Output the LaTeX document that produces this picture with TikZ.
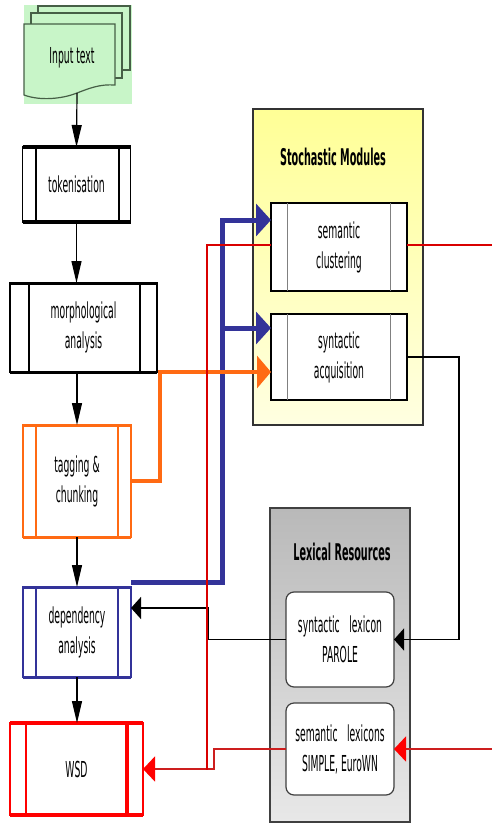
\documentclass[tikz,border=0pt]{standalone}
\usepackage{fontspec}
\setmainfont{DejaVu Sans}[FakeStretch=0.42]
\usetikzlibrary{arrows.meta}
\definecolor{orng}{RGB}{255,106,19}
\definecolor{blu}{RGB}{51,51,153}
\definecolor{rd}{RGB}{255,0,0}
\definecolor{rdl}{RGB}{205,30,30}
\definecolor{grn}{RGB}{200,245,200}
\definecolor{grnl}{RGB}{70,95,70}
\definecolor{ylwt}{RGB}{255,255,150}
\definecolor{ylwb}{RGB}{255,255,225}
\definecolor{gryt}{RGB}{185,185,185}
\definecolor{gryb}{RGB}{232,232,232}
\begin{document}
\begin{tikzpicture}[x=1pt,y=-1pt,
  txt/.style={font=\fontsize{22}{30}\selectfont, align=center, inner sep=0pt, outer sep=0pt},
  ttl/.style={font=\fontsize{23}{26}\selectfont\bfseries, inner sep=0pt},
  pbox/.style={txt, fill=white, line width=1.5pt},
  rbox/.style={txt, fill=white, draw=black!75, line width=1.2pt, rounded corners=8pt},
  flow/.style={line width=1.2pt, -{Triangle[length=22pt,width=10pt]}},
  hflow/.style={line width=1.5pt, -{Triangle[length=10pt,width=22pt]}},
  bflow/.style={blu, line width=5pt, -{Triangle[length=15pt,width=32pt]}},
  oflow/.style={orng, line width=4.5pt, -{Triangle[length=14pt,width=32pt]}},
  rflow/.style={rdl, line width=2pt, -{Triangle[length=12pt,width=25pt,color=rd]}},
  rthin/.style={rd!85!black, line width=1.2pt}]
\useasboundingbox (0,0) rectangle (492,825);

% Input text (document stack)
\fill[grn] (24,5) rectangle (132,104);
\filldraw[fill=grn, draw=grnl, line width=1.2pt] (38,6) rectangle (130,70);
\filldraw[fill=grn, draw=grnl, line width=1.2pt] (31,13) rectangle (122,78);
\filldraw[fill=grn, draw=grnl, line width=1.2pt] (24,24) -- (115,24) -- (115,85)
  .. controls (100,84) and (90,88) .. (77,93) .. controls (62,99) and (40,101) .. (24,95) -- cycle;
\node[txt] (in) at (72,58) {Input text};
\coordinate (inbot) at (77,93);

% processing chain
\node[pbox, draw=black, minimum width=108pt, minimum height=75pt] (tok) at (76.5,184.5) {tokenisation};
\draw[line width=3.5pt] (tok.north west) -- (tok.north east) (tok.south west) -- (tok.south east);
\draw[line width=2pt] ([xshift=13pt]tok.north west) -- ([xshift=13pt]tok.south west)
  ([xshift=-12pt]tok.north east) -- ([xshift=-12pt]tok.south east);

\node[pbox, draw=black, minimum width=147pt, minimum height=89pt] (morph) at (83.5,327.5) {morphological\\analysis};
\draw[line width=3pt] (morph.north west) -- (morph.north east) (morph.south west) -- (morph.south east);
\draw[line width=2pt] ([xshift=19pt]morph.north west) -- ([xshift=19pt]morph.south west)
  ([xshift=-17pt]morph.north east) -- ([xshift=-17pt]morph.south east);

\node[pbox, draw=orng, minimum width=108pt, minimum height=112pt] (tag) at (77,481) {tagging \&\\chunking};
\draw[orng, line width=3pt] (tag.north west) -- (tag.north east) (tag.south west) -- (tag.south east);
\draw[orng, line width=2pt] ([xshift=13pt]tag.north west) -- ([xshift=13pt]tag.south west)
  ([xshift=-13pt]tag.north east) -- ([xshift=-13pt]tag.south east);

\node[pbox, draw=blu, minimum width=108pt, minimum height=90pt] (dep) at (77,632) {dependency\\analysis};
\draw[blu, line width=3pt] (dep.north west) -- (dep.north east) (dep.south west) -- (dep.south east);
\draw[blu, line width=2pt] ([xshift=13pt]dep.north west) -- ([xshift=13pt]dep.south west)
  ([xshift=-13pt]dep.north east) -- ([xshift=-13pt]dep.south east);

\node[pbox, draw=rd, minimum width=133pt, minimum height=92pt] (wsd) at (76.5,769) {WSD};
\draw[rd, line width=4pt] (wsd.north west) -- (wsd.north east) (wsd.south west) -- (wsd.south east);
\draw[rd, line width=1.5pt] ([xshift=16pt]wsd.north west) -- ([xshift=16pt]wsd.south west);
\draw[rd, line width=3.5pt] ([xshift=-16pt]wsd.north east) -- ([xshift=-16pt]wsd.south east);

% Stochastic modules
\node[draw=black!80, line width=1.5pt, top color=ylwt, bottom color=ylwb, minimum width=170pt, minimum height=316pt, inner sep=0pt] (stoch) at (338,267) {};
\node[ttl] (stochT) at (333,157) {Stochastic Modules};
\node[pbox, draw=black, minimum width=136pt, minimum height=88pt] (semc) at (339,247) {semantic\\clustering};
\draw[black!50, line width=1pt] ([xshift=16pt]semc.north west) -- ([xshift=16pt]semc.south west)
  ([xshift=-17pt]semc.north east) -- ([xshift=-17pt]semc.south east);
\node[pbox, draw=black, minimum width=136pt, minimum height=86pt] (syna) at (339,357) {syntactic\\acquisition};
\draw[black!50, line width=1pt] ([xshift=16pt]syna.north west) -- ([xshift=16pt]syna.south west)
  ([xshift=-17pt]syna.north east) -- ([xshift=-17pt]syna.south east);

% Lexical resources
\node[draw=black!75, line width=1.5pt, top color=gryt, bottom color=gryb, minimum width=140pt, minimum height=314pt, inner sep=0pt] (lex) at (340,665) {};
\node[ttl] (lexT) at (342,552) {Lexical Resources};
\node[rbox, minimum width=108pt, minimum height=95pt] (synlex) at (340,639.5) {syntactic\hspace{0.3em} lexicon\\PAROLE};
\node[rbox, minimum width=108pt, minimum height=92pt] (semlex) at (340,749) {semantic\hspace{0.3em} lexicons\\SIMPLE, EuroWN};

% edge coordinates
\coordinate (rR1) at (492,245);
\coordinate (rR2) at (492,749);

% vertical flow
\draw[flow] (inbot) -- (tok.north);
\draw[flow] (tok.south) -- (tok.south |- morph.north);
\draw[flow] (tag.north |- morph.south) -- (tag.north);
\draw[flow] (tag.south) -- (dep.north);
\draw[flow] (dep.south) -- (dep.south |- wsd.north);

% red to WSD
\draw[rflow] (semlex.west) -- (214,749) |- (wsd.east);
\draw[rflow] (rR2) -- (semlex.east);

% black feedback
\draw[hflow] (syna.east) -- (459,357) |- (synlex.east);
\draw[hflow] (synlex.west) -- (208,639.5) |- ([yshift=24pt]dep.east);

% blue
\draw[blu, line width=5pt] ([yshift=5pt]dep.north east) -- (222,582) -- (222,328);
\draw[bflow] (222,582) |- ([yshift=27pt]semc.west);
\draw[bflow] (222,328) -- ([yshift=29pt]syna.west);

% orange
\draw[oflow] (tag.east) -- (160,481) |- ([yshift=-15pt]syna.west);

% red thin from semantic clustering (on top)
\draw[rthin] ([yshift=2pt]semc.east) -- (rR1);
\draw[rthin] ([yshift=2pt]semc.west) -- (207,245) -- (207,770);
\end{tikzpicture}
\end{document}
